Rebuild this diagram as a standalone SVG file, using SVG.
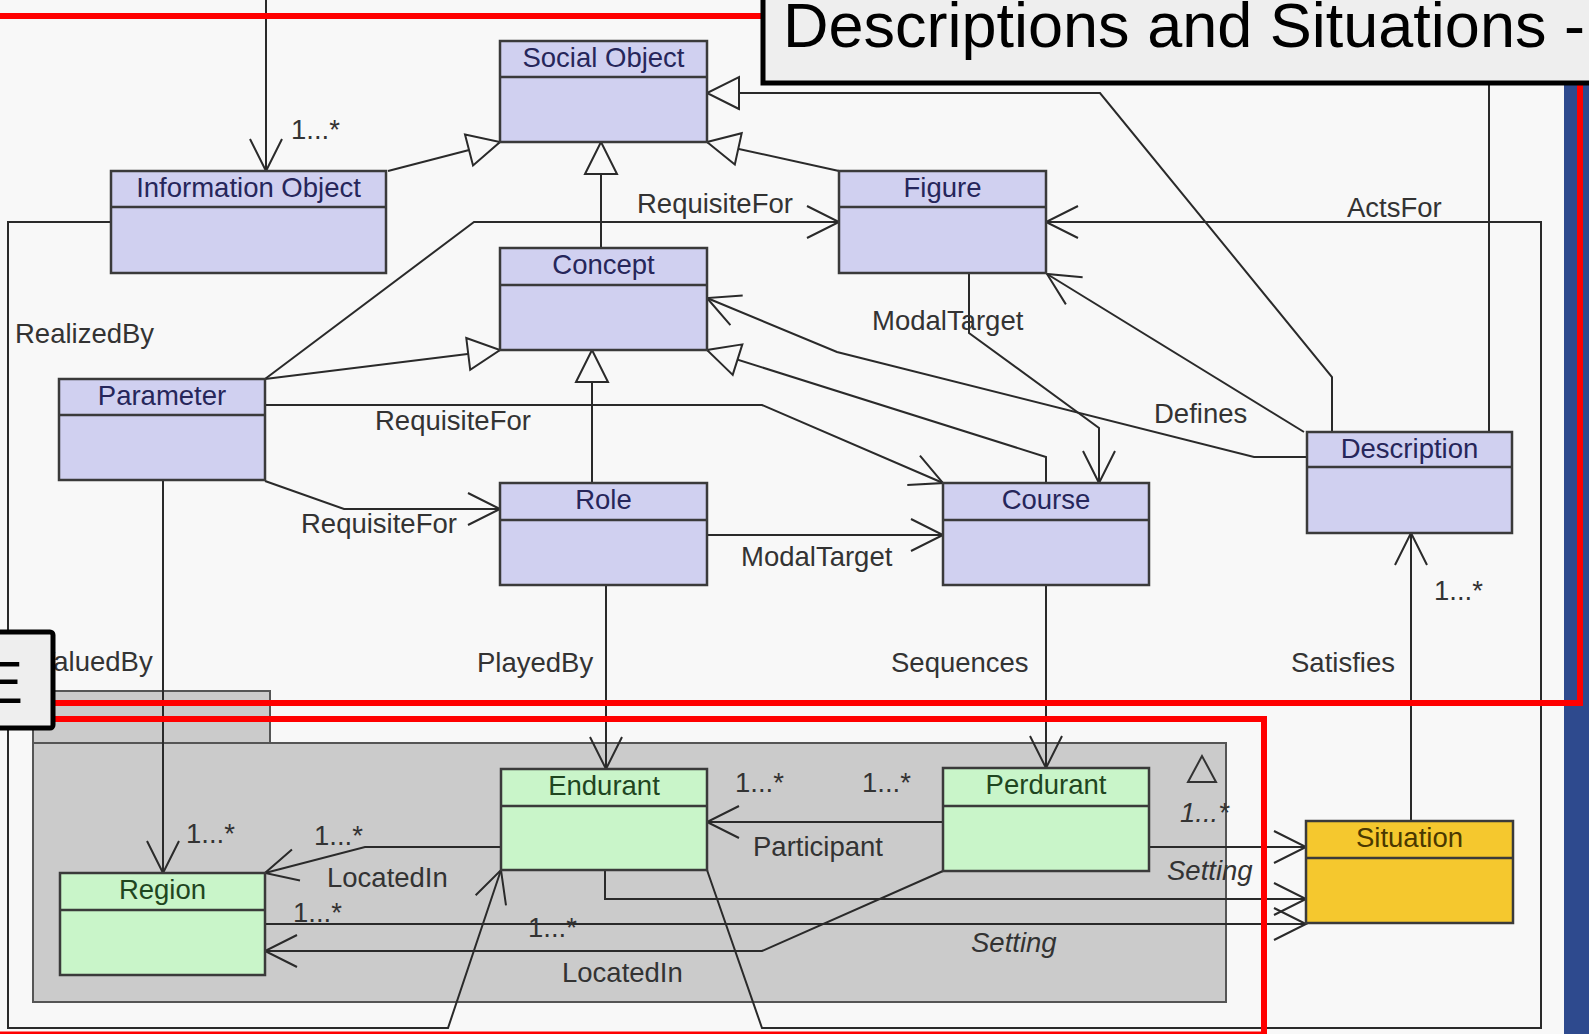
<svg xmlns="http://www.w3.org/2000/svg" width="1589" height="1034" viewBox="0 0 1589 1034">
<style>
.bg{fill:#f8f8f8}
.box rect{stroke:#3a3a3a;stroke-width:2.5}
.blue rect{fill:#d0d0f0}
.green rect{fill:#c9f5c9}
.yellow rect{fill:#f5c82e}
.box line{stroke:#3a3a3a;stroke-width:2.5}
.box text{font-family:"Liberation Sans",Arial,sans-serif;font-size:27.5px;text-anchor:middle}
.blue text{fill:#26265a}
.green text{fill:#1f461f}
.yellow text{fill:#4a3800}
.conn path{fill:none;stroke:#2a2a2a;stroke-width:2}
.lbl{font-family:"Liberation Sans",Arial,sans-serif;font-size:27.5px;fill:#333}
.it{font-style:italic}
.red{stroke:#ff0000;stroke-width:6;fill:none}
</style>
<defs>
<marker id="open" viewBox="0 0 40 40" markerWidth="40" markerHeight="40" refX="32" refY="16" orient="auto" markerUnits="userSpaceOnUse" overflow="visible">
<path d="M0,0 L32,16 L0,32" fill="none" stroke="#2a2a2a" stroke-width="2"/>
</marker>
<marker id="tri" viewBox="0 0 40 40" markerWidth="40" markerHeight="40" refX="32" refY="16" orient="auto" markerUnits="userSpaceOnUse" overflow="visible">
<path d="M0,0 L32,16 L0,32 Z" fill="#f8f8f8" stroke="#2a2a2a" stroke-width="2"/>
</marker>
</defs>
<rect class="bg" x="0" y="0" width="1589" height="1034"/>

<g id="package">
<rect x="33" y="691" width="237" height="52" fill="#cbcbcb" stroke="#555" stroke-width="2"/>
<rect x="33" y="743" width="1193" height="259" fill="#cbcbcb" stroke="#555" stroke-width="2"/>
<polygon points="1202,756 1188,782 1216,782" fill="none" stroke="#333" stroke-width="2"/>
</g>

<g id="connectors" class="conn">
<path d="M266,0 V171" marker-end="url(#open)"/>
<path d="M388,171 L500,142" marker-end="url(#tri)"/>
<path d="M839,171 L707,142" marker-end="url(#tri)"/>
<path d="M1332,432 V377 L1100,93 H707" marker-end="url(#tri)"/>
<path d="M1489,0 V432"/>
<path d="M601,248 V142" marker-end="url(#tri)"/>
<path d="M265,379 L474,222 H839" marker-end="url(#open)"/>
<path d="M707,870 L762,1028 H1541 V222 H1046" marker-end="url(#open)"/>
<path d="M111,222 H8 V1028 H448 L501,870" marker-end="url(#open)"/>
<path d="M265,379 L500,350" marker-end="url(#tri)"/>
<path d="M265,405 H762 L943,483" marker-end="url(#open)"/>
<path d="M265,481 L344,509 H500" marker-end="url(#open)"/>
<path d="M592,483 V350" marker-end="url(#tri)"/>
<path d="M707,535 H943" marker-end="url(#open)"/>
<path d="M1046,483 V457 L707,350" marker-end="url(#tri)"/>
<path d="M969,273 V333 L1099,428 V483" marker-end="url(#open)"/>
<path d="M1307,457 H1254 L837,352 L707,298" marker-end="url(#open)"/>
<path d="M1304,432 L1047,274" marker-end="url(#open)"/>
<path d="M1411,821 V533" marker-end="url(#open)"/>
<path d="M1046,585 V768" marker-end="url(#open)"/>
<path d="M606,585 V769" marker-end="url(#open)"/>
<path d="M163,480 V873" marker-end="url(#open)"/>
<path d="M501,847 H365 L265,873" marker-end="url(#open)"/>
<path d="M943,822 H707" marker-end="url(#open)"/>
<path d="M1149,847 H1306" marker-end="url(#open)"/>
<path d="M605,870 V899 H1306" marker-end="url(#open)"/>
<path d="M265,924 H1306" marker-end="url(#open)"/>
<path d="M943,871 L762,951 H265" marker-end="url(#open)"/>
</g>

<g id="social-object" class="box blue"><rect x="500" y="41" width="207" height="101"/><line x1="500" y1="77" x2="707" y2="77"/><text x="603.5" y="67">Social Object</text></g>
<g id="information-object" class="box blue"><rect x="111" y="171" width="275" height="102"/><line x1="111" y1="207" x2="386" y2="207"/><text x="248.5" y="197">Information Object</text></g>
<g id="figure" class="box blue"><rect x="839" y="171" width="207" height="102"/><line x1="839" y1="207" x2="1046" y2="207"/><text x="942.5" y="197">Figure</text></g>
<g id="concept" class="box blue"><rect x="500" y="248" width="207" height="102"/><line x1="500" y1="285" x2="707" y2="285"/><text x="603.5" y="274">Concept</text></g>
<g id="parameter" class="box blue"><rect x="59" y="379" width="206" height="101"/><line x1="59" y1="415" x2="265" y2="415"/><text x="162" y="405">Parameter</text></g>
<g id="role" class="box blue"><rect x="500" y="483" width="207" height="102"/><line x1="500" y1="520" x2="707" y2="520"/><text x="603.5" y="509">Role</text></g>
<g id="course" class="box blue"><rect x="943" y="483" width="206" height="102"/><line x1="943" y1="520" x2="1149" y2="520"/><text x="1046" y="509">Course</text></g>
<g id="description" class="box blue"><rect x="1307" y="432" width="205" height="101"/><line x1="1307" y1="467" x2="1512" y2="467"/><text x="1409.5" y="458">Description</text></g>
<g id="endurant" class="box green"><rect x="501" y="769" width="206" height="101"/><line x1="501" y1="806" x2="707" y2="806"/><text x="604" y="795">Endurant</text></g>
<g id="perdurant" class="box green"><rect x="943" y="768" width="206" height="103"/><line x1="943" y1="806" x2="1149" y2="806"/><text x="1046" y="794">Perdurant</text></g>
<g id="region" class="box green"><rect x="60" y="873" width="205" height="102"/><line x1="60" y1="910" x2="265" y2="910"/><text x="162.5" y="899">Region</text></g>
<g id="situation" class="box yellow"><rect x="1306" y="821" width="207" height="102"/><line x1="1306" y1="858" x2="1513" y2="858"/><text x="1409.5" y="847">Situation</text></g>

<g id="labels">
<text class="lbl" x="291" y="139">1...*</text>
<text class="lbl" x="637" y="213">RequisiteFor</text>
<text class="lbl" x="1347" y="217">ActsFor</text>
<text class="lbl" x="872" y="330">ModalTarget</text>
<text class="lbl" x="15" y="343">RealizedBy</text>
<text class="lbl" x="1154" y="423">Defines</text>
<text class="lbl" x="375" y="430">RequisiteFor</text>
<text class="lbl" x="301" y="533">RequisiteFor</text>
<text class="lbl" x="741" y="566">ModalTarget</text>
<text class="lbl" x="1434" y="600">1...*</text>
<text class="lbl" x="37" y="671">ValuedBy</text>
<text class="lbl" x="477" y="672">PlayedBy</text>
<text class="lbl" x="891" y="672">Sequences</text>
<text class="lbl" x="1291" y="672">Satisfies</text>
<text class="lbl" x="735" y="792">1...*</text>
<text class="lbl" x="862" y="792">1...*</text>
<text class="lbl it" x="1180" y="822">1...*</text>
<text class="lbl" x="753" y="856">Participant</text>
<text class="lbl" x="186" y="843">1...*</text>
<text class="lbl" x="314" y="845">1...*</text>
<text class="lbl" x="327" y="887">LocatedIn</text>
<text class="lbl it" x="1167" y="880">Setting</text>
<text class="lbl" x="293" y="922">1...*</text>
<text class="lbl" x="528" y="937">1...*</text>
<text class="lbl it" x="971" y="952">Setting</text>
<text class="lbl" x="562" y="982">LocatedIn</text>
</g>

<g id="overlay">
<rect x="1564" y="83" width="25" height="951" fill="#2e4a8e"/>
<line class="red" x1="0" y1="16" x2="765" y2="16"/>
<polyline class="red" points="50,703 1580,703 1580,80"/>
<polyline class="red" points="50,719 1264,719 1264,1034"/>
<line x1="0" y1="1033" x2="1267" y2="1033" stroke="#ff0000" stroke-width="3"/>
<rect x="763" y="-10" width="836" height="93" fill="#eeeeee" stroke="#000" stroke-width="5"/>
<text x="783" y="47" font-family="'Liberation Sans',Arial,sans-serif" font-size="63" fill="#000">Descriptions and Situations -</text>
<rect x="-6" y="632" width="59" height="96" rx="3" fill="#eeeeee" stroke="#000" stroke-width="5"/>
<text x="-17" y="703" font-family="'Liberation Sans',Arial,sans-serif" font-size="60" fill="#000">E</text>
</g>
</svg>
